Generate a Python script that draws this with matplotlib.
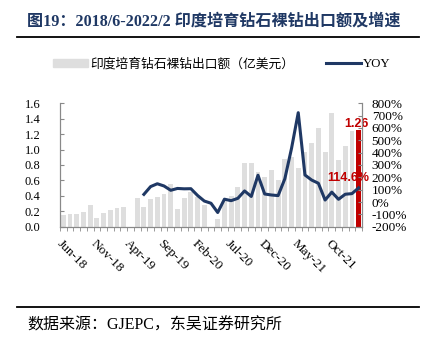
import numpy as np
import pandas as pd
import matplotlib
matplotlib.use("Agg")
import matplotlib.pyplot as plt
from matplotlib.patches import Patch
from matplotlib.lines import Line2D

plt.rcParams['font.family'] = ['Liberation Serif', 'Noto Sans CJK SC']

# 月份：2018/6 - 2022/2
months = list(pd.date_range('2018-06-01', periods=45, freq='MS').strftime('%b-%y'))

# 出口额（亿美元），缺失月份为 nan
export = [0.15, 0.165, 0.16, 0.185, 0.28, 0.11, 0.18, 0.215, 0.24, 0.255,
          np.nan, 0.37, 0.25, 0.355, 0.39, 0.43, 0.55, 0.23, 0.37, 0.45,
          0.39, 0.28, np.nan, 0.10, 0.33, 0.40, 0.51, 0.82, 0.82, 0.705,
          0.64, 0.735, 0.605, 0.88, 0.91, 0.76, 0.97, 1.09, 1.28, 0.97,
          1.48, 0.87, 1.05, 1.24, 1.26]

# 同比增速 (%)
yoy = [np.nan] * 12 + [62, 125, 148, 130, 95, 110, 107, 108, 53, 8,
                       -10, -85, 23, 11, 30, 90, 45, 217, 65, 57,
                       52, 188, 435, 724, 219, 178, 152, 16, 80, 22,
                       63, 68, 114.6]

navy = '#1F3864'
red = '#C00000'
gray = '#DEDEDE'

fig = plt.figure(figsize=(4.36, 3.46), dpi=100)
ax = fig.add_axes([60/436, 1-226.7/346, 302/436, 123.4/346])
ax2 = ax.twinx()

x = np.arange(len(months))
colors = [gray] * (len(months) - 1) + [red]
ax.bar(x, export, width=0.72, color=colors, zorder=1)
ax.set_xlim(-0.5, len(months) - 0.5)
ax.set_ylim(0, 1.6)
ax.set_yticks(np.arange(0, 1.61, 0.2))
ax.set_yticklabels([f'{v:.1f}' for v in np.arange(0, 1.61, 0.2)], fontsize=9)

ax2.plot(x, yoy, color=navy, lw=2.2, zorder=3)
ax2.set_ylim(-200, 800)
ax2.set_yticks(range(-200, 801, 100))
ax2.set_yticklabels([f'{v}%' for v in range(-200, 801, 100)], fontsize=9.5)

# x 轴：每 5 个月一个标签，刻度位于柱子之间
ax.set_xticks(x[::5])
ax.set_xticklabels(months[::5], rotation=-45, ha='left', va='top',
                   rotation_mode='anchor', fontsize=9.5)
ax.tick_params(axis='x', length=0, pad=8)
ax.set_xticks(np.arange(-0.5, len(months), 1), minor=True)
ax.tick_params(axis='x', which='minor', length=3, color='#898989', direction='out')
ax.tick_params(axis='y', direction='in', length=3, color='#898989', pad=14)
ax2.tick_params(axis='y', direction='in', length=3, color='#898989', pad=7)

for a in (ax, ax2):
    a.spines['top'].set_visible(False)
    for s in ('left', 'right', 'bottom'):
        a.spines[s].set_color('#898989')
        a.spines[s].set_linewidth(0.8)
ax2.patch.set_visible(False)

# 标注
ax.text(x[-1] - 0.3, export[-1] + 0.07, f'{export[-1]:.2f}', color=red, fontsize=9,
        fontweight='bold', ha='center', va='center', family='Liberation Sans')
ax2.text(x[-1] + 1.6, yoy[-1] + 80, f'{yoy[-1]:.1f}%', color=red, fontsize=9,
         fontweight='bold', ha='right', va='center', family='Liberation Sans')

# 图例
handles = [Patch(color=gray), Line2D([0], [0], color=navy, lw=2.2)]
fig.legend(handles, ['印度培育钻石裸钻出口额（亿美元）', 'YOY'],
           loc='center', bbox_to_anchor=(222/436, 1 - 64/346), ncol=2,
           frameon=False, fontsize=9.2, handlelength=2.7, handleheight=0.6,
           columnspacing=2.5, handletextpad=0.2)

# 标题与来源
fig.text(27/436, 1 - 21/346, '图19：2018/6-2022/2 印度培育钻石裸钻出口额及增速',
         fontsize=11.6, fontweight='bold', color=navy, va='center', ha='left')
fig.add_artist(Line2D([17/436, 419/436], [1 - 36.7/346] * 2, color='black', lw=1.3))
fig.add_artist(Line2D([17/436, 419/436], [1 - 306.7/346] * 2, color='black', lw=1.3))
fig.text(27/436, 1 - 326/346, '数据来源：GJEPC，东吴证券研究所',
         fontsize=11.5, color='black', va='center', ha='left')

fig.savefig('out.png', dpi=100)
